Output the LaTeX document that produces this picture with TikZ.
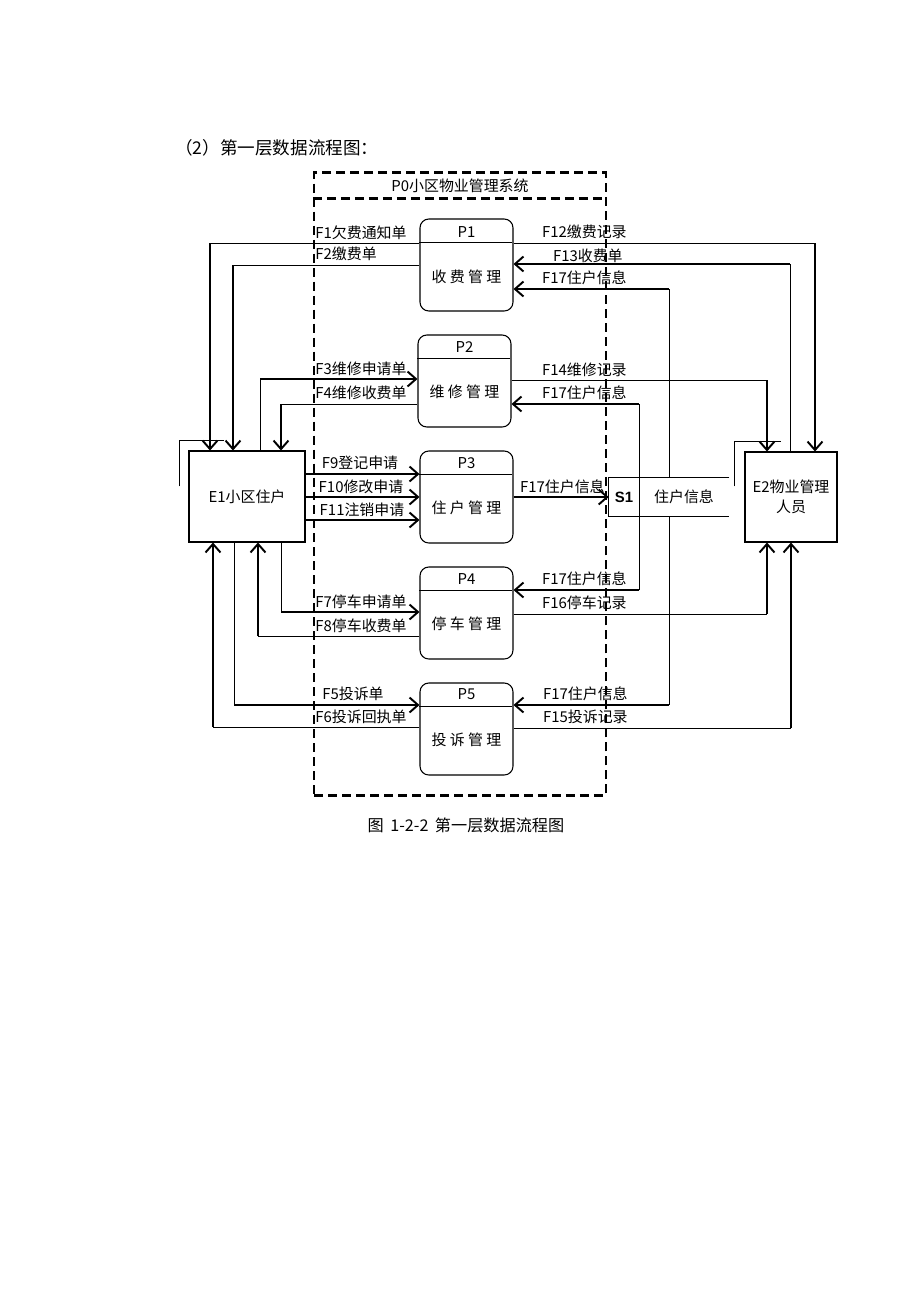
\documentclass[tikz,border=0pt]{standalone}
\usepackage{fontspec}
\setmainfont{Noto Sans CJK SC}
\newfontfamily\arial{Liberation Sans}
\usetikzlibrary{arrows.meta}
\tikzset{proc/.style = {shape=rectangle,draw,rounded corners=5pt,minimum width=1.86cm,minimum height=1.84cm,line width=0.6pt}}
\tikzset{ent/.style = {shape=rectangle,draw,minimum width=2.32cm,minimum height=1.82cm,line width=0.6pt,font=\fontsize{8.5}{11.4}\selectfont}}
\tikzset{store/.style = {shape=rectangle,minimum width=2.4cm,minimum height=0.76cm}}
\tikzset{sysbox/.style = {shape=rectangle,draw,line width=1.3pt,dash pattern=on 1.8mm off 1mm,minimum width=5.84cm,minimum height=12.46cm}}
\tikzset{dline/.style = {-,line width=0.55pt}}
\tikzset{dflow/.style = {-{Straight Barb[length=1.7mm,width=3mm]},line width=1.1pt}}
\tikzset{lbl/.style = {inner sep=0pt,font=\fontsize{8.5}{10}\selectfont}}

\begin{document}
\begin{tikzpicture}[x=0.02cm,y=-0.02cm]
\useasboundingbox (0,0) rectangle (920,1302);
% title
\node[anchor=west,inner sep=0pt,font=\fontsize{10}{12}\selectfont] (title) at (175,148) {（2）第一层数据流程图：};
% system
\node[sysbox] (p0) at (460,484) {};
\draw[line width=1.3pt,dash pattern=on 1.8mm off 1mm] (p0.north west) ++(0,27) -- ++(292,0);
\node[lbl] (p0n) at (460,186) {P0小区物业管理系统};
% processes
\node[proc] (p1) at (466.5,265) {};
\node[proc] (p2) at (464.5,381) {};
\node[proc] (p3) at (466.5,497) {};
\node[proc] (p4) at (466.5,613) {};
\node[proc] (p5) at (466.5,729) {};
\foreach \p in {p1,p2,p3,p4,p5}
  \draw[dline] (\p.north west) ++(0,23.5) -- ++(93,0);
\node[lbl] (p1n) at (466.5,232) {P1};
\node[lbl] (p2n) at (464.5,347) {P2};
\node[lbl] (p3n) at (466.5,463) {P3};
\node[lbl] (p4n) at (466.5,579) {P4};
\node[lbl] (p5n) at (466.5,694) {P5};
\node[lbl] (p1t) at (466.5,277) {收 费 管 理};
\node[lbl] (p2t) at (464.5,392) {维 修 管 理};
\node[lbl] (p3t) at (466.5,508) {住 户 管 理};
\node[lbl] (p4t) at (466.5,624) {停 车 管 理};
\node[lbl] (p5t) at (466.5,740) {投 诉 管 理};
% entities
\node[ent] (e1) at (247,496.5) {E1小区住户};
\node[ent,minimum width=1.84cm,minimum height=1.8cm,align=center] (e2) at (791,497) {E2物业管理\\人员};
\draw[dline] (e1.north west) ++(-9,36) |- ++(45,-46);
\draw[dline] (e2.north west) ++(-10,35) |- ++(47,-45);
% store
\node[store] (s1) at (669,497) {};
\draw[dline] (s1.north east) -- (s1.north west) -- (s1.south west) -- (s1.south east);
\draw[dline] (639,0 |- s1.north) -- (639,0 |- s1.south);
\node[lbl,font=\fontsize{8.5}{10}\selectfont\arial\bfseries] (s1n) at (624,497) {S1};
\node[lbl] (s1t) at (684,497) {住户信息};

%edges E1
\draw[dline] (p1.west |- 0,243) -- (210,243);
\draw[dflow] (210,243) -- (210,0 |- e1.north);
\draw[dline] (p1.west |- 0,265) -- (233,265);
\draw[dflow] (233,265) -- (233,0 |- e1.north);
\draw[dline] (260,0 |- e1.north) -- (260,379);
\draw[dflow] (260,379) -- (p2.west |- 0,379);
\draw[dline] (p2.west |- 0,404) -- (281,404);
\draw[dflow] (281,404) -- (281,0 |- e1.north);
\draw[dflow] (e1.east |- 0,474) -- (p3.west |- 0,474);
\draw[dflow] (e1.east |- 0,497) -- (p3.west |- 0,497);
\draw[dflow] (e1.east |- 0,520) -- (p3.west |- 0,520);
\draw[dline] (281,0 |- e1.south) -- (281,612);
\draw[dflow] (281,612) -- (p4.west |- 0,612);
\draw[dline] (p4.west |- 0,636) -- (258,636);
\draw[dflow] (258,636) -- (258,0 |- e1.south);
\draw[dline] (234,0 |- e1.south) -- (234,705);
\draw[dflow] (234,705) -- (p5.west |- 0,705);
\draw[dline] (p5.west |- 0,727) -- (213,727);
\draw[dflow] (213,727) -- (213,0 |- e1.south);

%edges E2 and S1
\draw[dline] (p1.east |- 0,243) -- (815,243);
\draw[dflow] (815,243) -- (815,0 |- e2.north);
\draw[dline] (790,0 |- e2.north) -- (790,264);
\draw[dflow] (790,264) -- (p1.east |- 0,264);
\draw[dline] (669,0 |- s1.north) -- (669,289);
\draw[dflow] (669,289) -- (p1.east |- 0,289);
\draw[dline] (p2.east |- 0,380) -- (767,380);
\draw[dflow] (767,380) -- (767,0 |- e2.north);
\draw[dline] (639,0 |- s1.north) -- (639,404);
\draw[dflow] (639,404) -- (p2.east |- 0,404);
\draw[dflow] (p3.east |- 0,497) -- (s1.west);
\draw[dline] (639,0 |- s1.south) -- (639,590);
\draw[dflow] (639,590) -- (p4.east |- 0,590);
\draw[dline] (p4.east |- 0,614) -- (767,614);
\draw[dflow] (767,614) -- (767,0 |- e2.south);
\draw[dline] (669,0 |- s1.south) -- (669,705);
\draw[dflow] (669,705) -- (p5.east |- 0,705);
\draw[dline] (p5.east |- 0,728) -- (791,728);
\draw[dflow] (791,728) -- (791,0 |- e2.south);

% flow labels
\node[lbl,anchor=west] (f1) at (315,233) {F1欠费通知单};
\node[lbl,anchor=west] (f2) at (315,254) {F2缴费单};
\node[lbl,anchor=west] (f3) at (315,369) {F3维修申请单};
\node[lbl,anchor=west] (f4) at (315,393) {F4维修收费单};
\node[lbl] (f9) at (360,463) {F9登记申请};
\node[lbl] (f10) at (361,487) {F10修改申请};
\node[lbl] (f11) at (362,510) {F11注销申请};
\node[lbl,anchor=west] (f7) at (315,602) {F7停车申请单};
\node[lbl,anchor=west] (f8) at (315,626) {F8停车收费单};
\node[lbl] (f5) at (353,694) {F5投诉单};
\node[lbl,anchor=west] (f6) at (315,717) {F6投诉回执单};
\node[lbl,anchor=east] (f12) at (627,232) {F12缴费记录};
\node[lbl,anchor=east] (f13) at (623,256) {F13收费单};
\node[lbl,anchor=east] (f17a) at (627,278) {F17住户信息};
\node[lbl,anchor=east] (f14) at (627,370) {F14维修记录};
\node[lbl,anchor=east] (f17b) at (627,393) {F17住户信息};
\node[lbl,anchor=east] (f17c) at (605,487) {F17住户信息};
\node[lbl,anchor=east] (f17d) at (627,579) {F17住户信息};
\node[lbl,anchor=east] (f16) at (627,603) {F16停车记录};
\node[lbl,anchor=east] (f17e) at (628,694) {F17住户信息};
\node[lbl,anchor=east] (f15) at (628,717) {F15投诉记录};
% caption
\node[inner sep=0pt,font=\fontsize{9.2}{11}\selectfont] (cap) at (466,825) {图\hspace{0.4em}1-2-2\hspace{0.4em}第一层数据流程图};
\end{tikzpicture}
\end{document}
